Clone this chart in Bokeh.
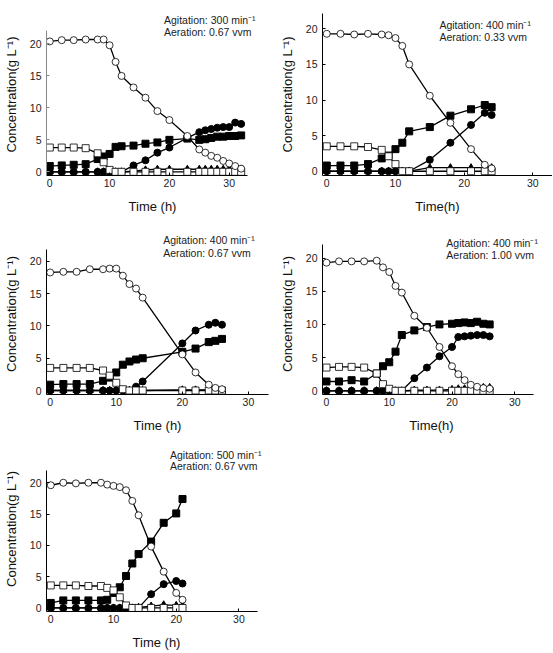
from bokeh.plotting import figure
from bokeh.layouts import column, row
from bokeh.models import FixedTicker, Label
from bokeh.embed import file_html
from bokeh.resources import INLINE

FONT = "Liberation Sans"

# ---------------- data (time in h, concentrations in g/L) ----------------
# Panel A: Agitation 300 min-1, Aeration 0.67 vvm
t_a = [0, 2, 4, 6, 8, 9, 10, 11, 12, 14, 16, 18, 20, 23, 25, 26, 27, 28, 29, 30, 31, 32]
open_circle_a = [20.4, 20.6, 20.6, 20.7, 20.7, 20.7, 19.8, 17.2, 15.0, 13.2, 11.6, 9.5, 8.1, 5.6, 3.5, 3.0, 2.5, 2.2, 1.7, 1.3, 0.9, 0.5]
open_square_a = [3.8, 3.8, 3.8, 3.7, 2.9, 1.5, 0.3, 0, 0, 0, 0, 0, 0, 0, 0, 0, 0, 0, 0, 0, 0, 0]
filled_square_a = [0.9, 1.0, 1.1, 1.2, 2.0, 2.4, 2.8, 3.9, 4.0, 4.1, 4.4, 4.6, 5.0, 5.2, 5.0, 5.1, 5.3, 5.5, 5.5, 5.6, 5.6, 5.7]
filled_circle_a = [0, 0, 0, 0, 0, 0, 0, 0, 0, 1.0, 1.8, 3.0, 3.8, 5.3, 6.2, 6.5, 6.7, 6.9, 7.0, 7.0, 7.7, 7.5]
triangle_a = [0, 0, 0, 0, 0, 0, 0, 0, 0, 0.1, 0.3, 0.4, 0.4, 0.4, 0.4, 0.4, 0.4, 0.4, 0.4, 0.4, 0.4, 0.4]

# Panel B: Agitation 400 min-1, Aeration 0.33 vvm
t_b = [0, 2, 4, 6, 8, 9, 10, 11, 12, 15, 18, 21, 23, 24]
open_circle_b = [19.3, 19.3, 19.2, 19.3, 19.2, 19.1, 18.7, 17.6, 15.0, 10.6, 6.8, 3.1, 0.9, 0.4]
open_square_b = [3.5, 3.5, 3.5, 3.4, 3.0, 2.1, 1.0, 0, 0, 0, 0, 0, 0, 0]
filled_square_b = [0.8, 0.8, 0.8, 1.0, 1.8, 2.2, 3.1, 4.0, 5.6, 6.2, 7.8, 8.7, 9.3, 9.0]
filled_circle_b = [0, 0, 0, 0, 0, 0, 0, 0, 0, 1.6, 4.0, 6.5, 8.2, 7.9]
triangle_b = [0, 0, 0, 0, 0, 0, 0, 0, 0, 0.5, 0.5, 0.5, 0.5, 0.5]

# Panel C: Agitation 400 min-1, Aeration 0.67 vvm
t_c = [0, 2, 4, 6, 8, 9, 10, 11, 12, 13, 14, 20, 22, 24, 25, 26]
open_circle_c = [18.3, 18.4, 18.4, 18.8, 18.8, 18.9, 18.9, 17.8, 16.5, 15.8, 14.4, 5.6, 2.8, 0.9, 0.4, 0.2]
open_square_c = [3.5, 3.5, 3.5, 3.5, 3.1, 2.3, 1.2, 0.2, 0, 0, 0, 0, 0, 0, 0, 0]
filled_square_c = [0.9, 1.0, 1.0, 1.0, 1.5, 2.0, 2.8, 4.0, 4.5, 4.8, 5.0, 6.0, 6.5, 7.5, 7.7, 8.0]
filled_circle_c = [0, 0, 0, 0, 0, 0, 0, 0, 0, 0.6, 1.4, 7.3, 9.3, 10.2, 10.5, 10.2]
triangle_c = [0, 0, 0, 0, 0, 0, 0, 0, 0, 0, 0, 0.1, 0.1, 0.1, 0.1, 0.1]

# Panel D: Agitation 400 min-1, Aeration 1.00 vvm
t_d = [0, 2, 4, 6, 8, 9, 10, 11, 12, 14, 16, 18, 20, 21, 22, 23, 24, 25, 26]
open_circle_d = [19.3, 19.5, 19.5, 19.5, 19.6, 18.6, 17.9, 15.8, 14.8, 11.3, 9.5, 6.6, 3.7, 2.5, 1.6, 0.9, 0.6, 0.4, 0.3]
open_square_d = [3.5, 3.6, 3.6, 3.5, 2.6, 1.0, 0.3, 0, 0, 0, 0, 0, 0, 0, 0, 0, 0, 0, 0]
filled_square_d = [1.4, 1.4, 1.6, 1.4, 2.6, 3.7, 4.3, 5.9, 8.4, 9.1, 9.6, 10.0, 10.1, 10.2, 10.3, 10.2, 10.4, 10.1, 10.0]
filled_circle_d = [0, 0, 0, 0, 0, 0, 0, 0, 0, 1.9, 3.5, 5.2, 6.6, 8.1, 8.2, 8.3, 8.4, 8.4, 8.2]
triangle_d = [0, 0, 0, 0, 0, 0, 0, 0, 0, 0.1, 0.1, 0.1, 0.2, 0.3, 0.3, 0.4, 0.4, 0.5, 0.5]

# Panel E: Agitation 500 min-1, Aeration 0.67 vvm
t_e = [0, 2, 4, 6, 8, 9, 10, 11, 12, 13, 14, 16, 18, 20, 21]
open_circle_e = [19.6, 20.0, 19.9, 20.0, 20.0, 19.7, 19.5, 19.3, 18.8, 17.1, 14.8, 9.8, 5.8, 2.4, 1.3]
open_square_e = [3.6, 3.6, 3.6, 3.5, 3.5, 3.2, 2.8, 1.7, 0.4, 0, 0, 0, 0, 0, 0]
filled_square_e = [0.8, 1.2, 1.2, 1.2, 1.2, 1.3, 2.4, 3.3, 5.1, 7.1, 8.6, 10.6, 13.6, 15.1, 17.4]
filled_circle_e = [0, 0, 0, 0, 0, 0, 0, 0, 0, 0, 0, 2.2, 3.8, 4.3, 3.9]
triangle_e = [0, 0, 0, 0, 0, 0, 0, 0, 0, 0, 0.1, 0.3, 0.5, 0.4, 0.4]

agitation = ["300", "400", "400", "400", "500"]
aeration = ["0.67", "0.33", "0.67", "1.00", "0.67"]
xlabels = ["Time (h)", "Time(h)", "Time (h)", "Time(h)", "Time (h)"]
x_ticks = [0, 10, 20, 30]
y_ticks = [0, 5, 10, 15, 20]
ylabel = "Concentration(g L\u207b\u00b9)"

data = [
    (t_a, open_circle_a, open_square_a, filled_square_a, filled_circle_a, triangle_a),
    (t_b, open_circle_b, open_square_b, filled_square_b, filled_circle_b, triangle_b),
    (t_c, open_circle_c, open_square_c, filled_square_c, filled_circle_c, triangle_c),
    (t_d, open_circle_d, open_square_d, filled_square_d, filled_circle_d, triangle_d),
    (t_e, open_circle_e, open_square_e, filled_square_e, filled_circle_e, triangle_e),
]

# ---------------- layout ----------------
geom = [
    dict(w=276, h=216, bl=45, bt=13, fw=213, fh=163, xr=(-0.55, 34.9), yr=(-0.575, 24.77),
         xe=33.0, ye=22.1, ycol="#8a8a8a", lx=19.1, ly=(23.8, 21.9)),
    dict(w=276, h=216, bl=45, bt=0, fw=231, fh=177, xr=(-0.62, 32.86), yr=(-0.6, 22.15),
         xe=32.86, ye=22.15, ycol="black", lx=16.4, ly=(20.5, 18.9)),
    dict(w=276, h=220, bl=44, bt=17, fw=224, fh=161, xr=(-0.555, 33.04), yr=(-0.62, 24.34),
         xe=33.0, ye=21.9, ycol="black", lx=17.1, ly=(23.3, 21.3)),
    dict(w=276, h=220, bl=45, bt=4, fw=219, fh=174, xr=(-0.635, 34.1), yr=(-0.56, 23.7),
         xe=33.0, ye=22.1, ycol="black", lx=19.1, ly=(22.2, 20.5)),
    dict(w=276, h=216, bl=44, bt=10, fw=222, fh=170, xr=(-0.68, 34.39), yr=(-0.57, 25.79),
         xe=33.0, ye=21.9, ycol="black", lx=19.0, ly=(24.5, 22.7)),
]


def make_panel(i):
    t, oc, osq, fsq, fc, tri = data[i]
    g = geom[i]
    p = figure(width=g["w"], height=g["h"], x_range=g["xr"], y_range=g["yr"],
               output_backend="svg", toolbar_location=None,
               min_border_left=g["bl"], min_border_top=g["bt"],
               min_border_right=g["w"] - g["bl"] - g["fw"],
               min_border_bottom=g["h"] - g["bt"] - g["fh"])
    p.outline_line_color = None
    p.xgrid.visible = False
    p.ygrid.visible = False
    p.background_fill_color = "white"
    p.border_fill_color = "white"

    for ax in (p.xaxis, p.yaxis):
        ax.minor_tick_line_color = None
        ax.major_tick_in = 3
        ax.major_tick_out = 0
        ax.major_label_text_font = FONT
        ax.major_label_text_font_size = "10.5px"
        ax.major_label_text_color = "#222222"
        ax.axis_label_text_font = FONT
        ax.axis_label_text_font_size = "13px"
        ax.axis_label_text_font_style = "normal"
        ax.axis_label_text_color = "#111111"
    p.xaxis.major_label_standoff = 3
    p.yaxis.major_label_standoff = 5
    p.xaxis.ticker = FixedTicker(ticks=x_ticks)
    p.yaxis.ticker = FixedTicker(ticks=y_ticks)
    p.xaxis.axis_label = xlabels[i]
    p.yaxis.axis_label = ylabel
    p.xaxis.axis_label_standoff = 9
    p.yaxis.axis_label_standoff = 8
    p.xaxis.bounds = (g["xr"][0], g["xe"])
    p.yaxis.bounds = (g["yr"][0], g["ye"])
    p.xaxis.axis_line_color = "black"
    p.yaxis.axis_line_color = g["ycol"]
    p.xaxis.major_tick_line_color = "black"
    p.yaxis.major_tick_line_color = g["ycol"]

    lw = 1.3
    ms = 7
    for ys in (tri, fc, fsq, osq, oc):
        p.line(t, ys, line_color="black", line_width=lw)
    p.scatter(t, tri, marker="triangle", size=ms, fill_color="black", line_color="black")
    p.scatter(t, fc, marker="circle", size=ms, fill_color="black", line_color="black")
    p.scatter(t, fsq, marker="square", size=ms, fill_color="black", line_color="black")
    p.scatter(t, osq, marker="square", size=ms, fill_color="white", line_color="black", line_width=0.8)
    p.scatter(t, oc, marker="circle", size=ms, fill_color="white", line_color="black", line_width=0.8)

    for txt, ly in ((f"Agitation: {agitation[i]} min\u207b\u00b9", g["ly"][0]),
                    (f"Aeration: {aeration[i]} vvm", g["ly"][1])):
        p.add_layout(Label(x=g["lx"], y=ly, text=txt, text_font=FONT, text_font_size="10.5px",
                           text_color="#222222", text_baseline="middle", text_align="left"))
    return p


panels = [make_panel(i) for i in range(5)]
layout = column(row(panels[0], panels[1]), row(panels[2], panels[3]), row(panels[4]))

open("out.html", "w").write(file_html(layout, INLINE))
